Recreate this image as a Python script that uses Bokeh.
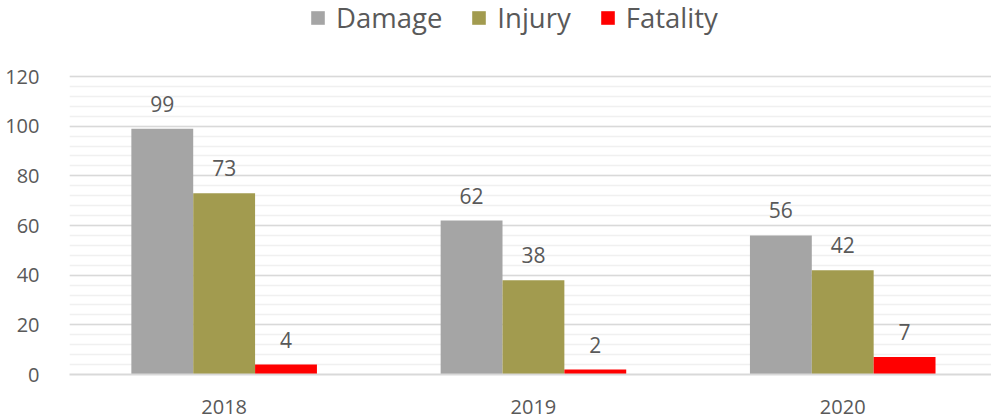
from bokeh.plotting import figure
from bokeh.models import (ColumnDataSource, Range1d, FixedTicker,
                          LabelSet, Legend, LegendItem)
from bokeh.core.properties import value
from bokeh.embed import file_html
from bokeh.resources import INLINE

years = ["2018", "2019", "2020"]
damage = [99, 62, 56]
injury = [73, 38, 42]
fatality = [4, 2, 7]
series_names = ["Damage", "Injury", "Fatality"]
colors = ["#a5a5a5", "#a29b4f", "#ff0000"]
y_max = 120
y_major = list(range(0, y_max + 1, 20))
y_minor = list(range(0, y_max + 1, 4))

FONT = "Open Sans"
TXT = "#595959"
bar_w = 0.2
offsets = [-0.2, 0.0, 0.2]

# frame spans the full height; extra headroom above y_max hosts the legend
p = figure(width=991, height=419, output_backend="svg", toolbar_location=None,
           x_range=Range1d(0, 2.981), y_range=Range1d(0, y_max * 374 / 298),
           min_border_left=69, min_border_right=0, min_border_top=0, min_border_bottom=45)
p.outline_line_color = None
p.background_fill_color = "white"
p.border_fill_color = "white"

centers = [i + 0.5 for i in range(len(years))]
items = []
for vals, name, col, off in zip([damage, injury, fatality], series_names, colors, offsets):
    xs = [c + off for c in centers]
    src = ColumnDataSource(dict(x=xs, top=vals, lab=[str(v) for v in vals]))
    r = p.vbar(x="x", top="top", width=bar_w, bottom=0, source=src,
               fill_color=col, line_color=None)
    items.append(LegendItem(label=name, renderers=[r]))
    labels = LabelSet(x="x", y="top", text="lab", source=src, text_align="center",
                      text_baseline="bottom", y_offset=17, text_font=value(FONT),
                      text_font_size="21px", text_color=TXT)
    p.add_layout(labels)

legend = Legend(items=items, orientation="horizontal", location=(240, 338),
                label_text_font=FONT, label_text_font_size="27.5px", label_text_color=TXT,
                glyph_width=17, glyph_height=17, label_standoff=10, spacing=28,
                border_line_color=None, padding=0, margin=0, background_fill_alpha=0)
p.add_layout(legend, "center")

# x axis
p.xaxis.ticker = FixedTicker(ticks=centers)
p.xaxis.major_label_overrides = {c: y for c, y in zip(centers, years)}
p.xaxis.axis_line_color = "#d9d9d9"
p.xaxis.axis_line_width = 2
p.xaxis.major_tick_line_color = None
p.xaxis.minor_tick_line_color = None
p.xaxis.major_label_text_font = FONT
p.xaxis.major_label_text_font_size = "20px"
p.xaxis.major_label_text_color = TXT
p.xaxis.major_label_standoff = 19
p.xgrid.grid_line_color = None

# y axis
p.yaxis.ticker = FixedTicker(ticks=y_major, minor_ticks=y_minor)
p.yaxis.axis_line_color = None
p.yaxis.major_tick_line_color = None
p.yaxis.minor_tick_line_color = None
p.yaxis.major_label_text_font = FONT
p.yaxis.major_label_text_font_size = "20px"
p.yaxis.major_label_text_color = TXT
p.yaxis.major_label_standoff = 24
p.ygrid.grid_line_color = "#d9d9d9"
p.ygrid.grid_line_width = 1.5
p.ygrid.minor_grid_line_color = "#f0f0f0"
p.ygrid.minor_grid_line_width = 1.5

open("out.html", "w").write(file_html(p, INLINE))
